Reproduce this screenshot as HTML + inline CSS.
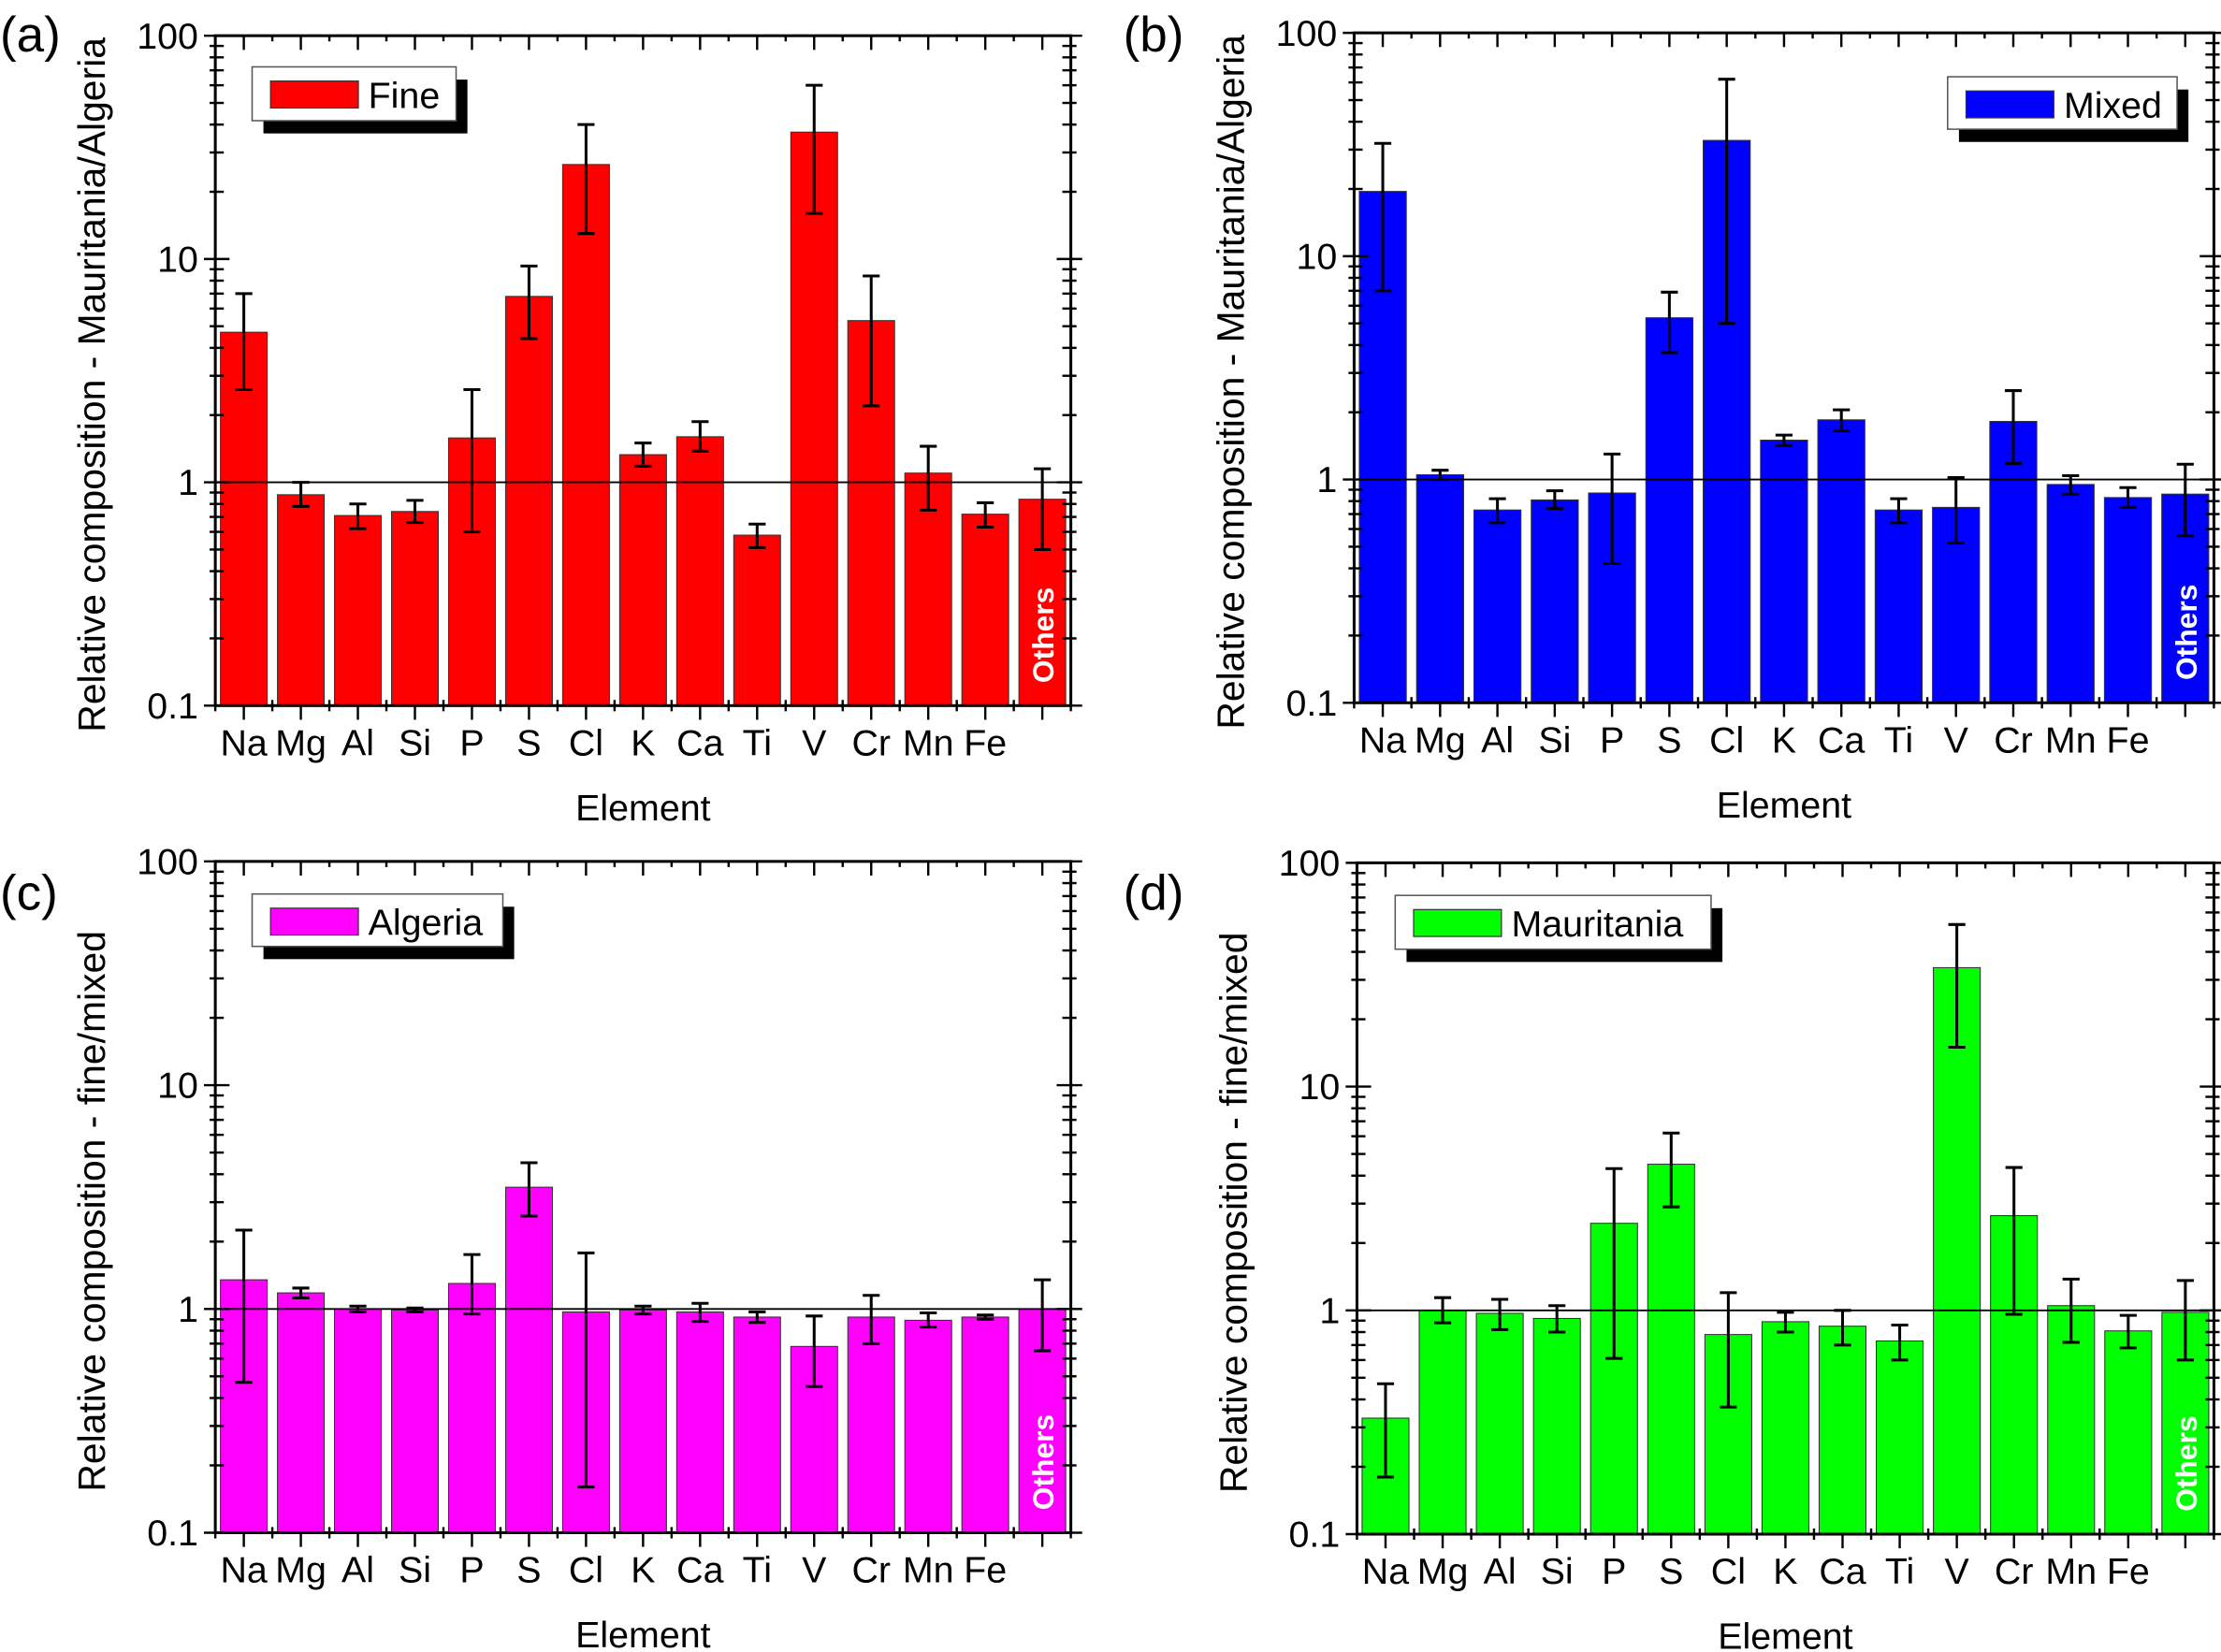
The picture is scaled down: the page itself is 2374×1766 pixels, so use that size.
<!DOCTYPE html>
<html><head><meta charset="utf-8"><style>
html,body{margin:0;padding:0;background:#fff;}
svg{display:block;}
text{font-family:"Liberation Sans",sans-serif;}
.nar{font-family:"Liberation Sans Narrow","Liberation Sans",sans-serif;}
</style></head><body>
<svg id="fig" width="2374" height="1766" viewBox="0 0 1568 1166" xmlns="http://www.w3.org/2000/svg"></svg>
<script>
const categories = ["Na","Mg","Al","Si","P","S","Cl","K","Ca","Ti","V","Cr","Mn","Fe","Others"];
const fineVals   = [4.7,0.88,0.71,0.74,1.58,6.8,26.5,1.33,1.6,0.58,37,5.3,1.1,0.72,0.84];
const fineLo     = [2.6,0.78,0.62,0.66,0.6,4.4,13,1.18,1.38,0.51,16,2.2,0.75,0.63,0.5];
const fineHi     = [7,1.0,0.8,0.83,2.6,9.3,40,1.5,1.87,0.65,60,8.4,1.45,0.81,1.15];
const mixedVals  = [19.5,1.05,0.73,0.81,0.87,5.3,33,1.5,1.85,0.73,0.75,1.82,0.95,0.83,0.86];
const mixedLo    = [7,1.0,0.64,0.74,0.42,3.7,5,1.42,1.65,0.64,0.52,1.18,0.86,0.75,0.56];
const mixedHi    = [32,1.1,0.82,0.89,1.3,6.9,62,1.58,2.05,0.82,1.02,2.5,1.04,0.92,1.17];
const algVals    = [1.35,1.18,1.0,0.99,1.3,3.5,0.97,0.99,0.97,0.92,0.68,0.92,0.89,0.92,1.0];
const algLo      = [0.47,1.12,0.97,0.97,0.95,2.6,0.16,0.95,0.88,0.87,0.45,0.7,0.83,0.9,0.65];
const algHi      = [2.25,1.24,1.03,1.01,1.75,4.5,1.78,1.03,1.06,0.97,0.93,1.15,0.96,0.94,1.35];
const mauVals    = [0.33,1.0,0.97,0.92,2.45,4.5,0.78,0.89,0.85,0.73,34,2.65,1.05,0.81,0.98];
const mauLo      = [0.18,0.88,0.82,0.8,0.61,2.9,0.37,0.8,0.7,0.6,15,0.96,0.72,0.68,0.6];
const mauHi      = [0.47,1.14,1.12,1.05,4.3,6.2,1.2,0.98,1.0,0.86,53,4.35,1.38,0.95,1.36];
const yTicks = [0.1,1,10,100];
const yTickLabels = ["0.1","1","10","100"];

const NS="http://www.w3.org/2000/svg";
const svg=document.getElementById('fig');
function mk(tag,attrs,parent){const e=document.createElementNS(NS,tag);for(const k in attrs)e.setAttribute(k,attrs[k]);(parent||svg).appendChild(e);return e;}

const panels=[
 {id:'a',x0:152,x1:756,y0:25,y1:498,vals:fineVals,lo:fineLo,hi:fineHi,col:'#ff0000',leg:'Fine',lx:178,ly:47,lw:144,lh:38,yt:'Relative composition - Mauritania/Algeria',lab:'(a)',labx:0,laby:36},
 {id:'b',x0:956,x1:1563,y0:23,y1:496,vals:mixedVals,lo:mixedLo,hi:mixedHi,col:'#0000ff',leg:'Mixed',lx:1375,ly:54,lw:162,lh:37,yt:'Relative composition - Mauritania/Algeria',lab:'(b)',labx:793,laby:36},
 {id:'c',x0:152,x1:756,y0:608,y1:1082,vals:algVals,lo:algLo,hi:algHi,col:'#ff00ff',leg:'Algeria',lx:178,ly:631,lw:177,lh:37,yt:'Relative composition - fine/mixed',lab:'(c)',labx:0,laby:642},
 {id:'d',x0:958,x1:1563,y0:609,y1:1083,vals:mauVals,lo:mauLo,hi:mauHi,col:'#00ff00',leg:'Mauritania',lx:985,ly:632,lw:223,lh:38,yt:'Relative composition - fine/mixed',lab:'(d)',labx:793,laby:642}
];

panels.forEach(p=>{
  const g=mk('g',{});
  
  
  const n=categories.length, slot=(p.x1-p.x0)/n;
  const y=v=>p.y1-(Math.log10(v)+1)/3*(p.y1-p.y0);
  const xc=i=>p.x0+slot*(i+0.5);
  p.vals.forEach((v,i)=>{
    const r=mk('rect',{x:xc(i)-slot*0.41,y:y(v),width:slot*0.82,height:p.y1-y(v),fill:p.col,stroke:'#333','stroke-width':0.7},g);
    
    
  });
  p.vals.forEach((v,i)=>{
    const e=mk('g',{stroke:'#000','stroke-width':2},g);
    
    
    const x=xc(i);
    mk('line',{x1:x,x2:x,y1:y(p.lo[i]),y2:y(p.hi[i])},e);
    mk('line',{x1:x-6,x2:x+6,y1:y(p.lo[i]),y2:y(p.lo[i])},e);
    mk('line',{x1:x-6,x2:x+6,y1:y(p.hi[i]),y2:y(p.hi[i])},e);
  });
  const ot=mk('text',{x:0,y:0,transform:`translate(${xc(n-1)+8},${p.y1-16}) rotate(-90)`,fill:'#fff','font-weight':'bold','font-size':21},g);
  ot.textContent='Others';
  
  
  const rl=mk('line',{x1:p.x0,x2:p.x1,y1:y(1),y2:y(1),stroke:'#000','stroke-width':1.2},g);
  
  
  const fr=mk('rect',{x:p.x0,y:p.y0,width:p.x1-p.x0,height:p.y1-p.y0,fill:'none',stroke:'#000','stroke-width':2},g);
  
  
  const tk=mk('g',{stroke:'#000','stroke-width':1.6},g);
  for(let d=-1;d<2;d++){for(let m=2;m<10;m++){const yy=y(m*Math.pow(10,d));
    mk('line',{x1:p.x0-4,x2:p.x0+6,y1:yy,y2:yy},tk);mk('line',{x1:p.x1-6,x2:p.x1+4,y1:yy,y2:yy},tk);}}
  yTicks.forEach((t,k)=>{const yy=y(t);
    mk('line',{x1:p.x0-8,x2:p.x0+10,y1:yy,y2:yy},tk);mk('line',{x1:p.x1-10,x2:p.x1+8,y1:yy,y2:yy},tk);
    const lt=mk('text',{x:p.x0-12,y:yy+9,'text-anchor':'end','font-size':26},g);lt.textContent=yTickLabels[k];
    
    
  });
  for(let i=0;i<=n;i++){const xx=p.x0+slot*i;
    mk('line',{x1:xx,x2:xx,y1:p.y1-4,y2:p.y1+4},tk);mk('line',{x1:xx,x2:xx,y1:p.y0,y2:p.y0+4},tk);}
  categories.forEach((c,i)=>{const xx=xc(i);
    mk('line',{x1:xx,x2:xx,y1:p.y1,y2:p.y1+10},tk);mk('line',{x1:xx,x2:xx,y1:p.y0,y2:p.y0+10},tk);
    if(c!=='Others'){const lt=mk('text',{x:xx,y:p.y1+35,'text-anchor':'middle','font-size':26,class:'nar'},g);lt.textContent=c;
      
      }
  });
  const xt=mk('text',{x:(p.x0+p.x1)/2,y:p.y1+81,'text-anchor':'middle','font-size':26,class:'nar'},g);xt.textContent='Element';
  
  
  const yt=mk('text',{x:0,y:0,transform:`translate(${p.x0-78},${(p.y0+p.y1)/2+10}) rotate(-90)`,'text-anchor':'middle','font-size':27},g);yt.textContent=p.yt;
  
  
  const pl=mk('text',{x:p.labx,y:p.laby,'font-size':35},g);pl.textContent=p.lab;
  
  
  const lg=mk('g',{},g);
  
  
  mk('rect',{x:p.lx+8,y:p.ly+9,width:p.lw,height:p.lh,fill:'#000'},lg);
  mk('rect',{x:p.lx,y:p.ly,width:p.lw,height:p.lh,fill:'#fff',stroke:'#555','stroke-width':1},lg);
  mk('rect',{x:p.lx+13,y:p.ly+10,width:62,height:19,fill:p.col,stroke:'#333','stroke-width':0.8},lg);
  const lt=mk('text',{x:p.lx+82,y:p.ly+29,'font-size':26},lg);lt.textContent=p.leg;
});
</script>
</body></html>
